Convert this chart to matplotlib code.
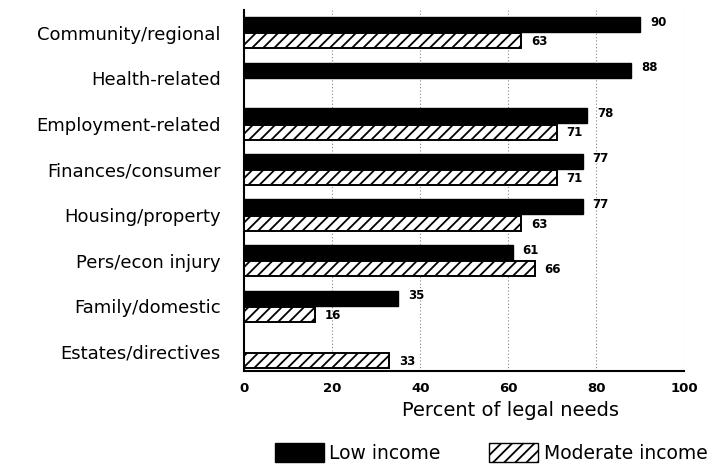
import numpy as np
import matplotlib.pyplot as plt
from matplotlib.patches import Patch

plt.rcParams['hatch.linewidth'] = 1.3
plt.rcParams['font.family'] = ['DejaVu Sans']

categories = ['Community/regional', 'Health-related', 'Employment-related',
              'Finances/consumer', 'Housing/property', 'Pers/econ injury',
              'Family/domestic', 'Estates/directives']
low_income = [90, 88, 78, 77, 77, 61, 35, None]
moderate_income = [63, None, 71, 71, 63, 66, 16, 33]
x_ticks = [0, 20, 40, 60, 80, 100]

fig = plt.figure(figsize=(7.12, 4.68), dpi=100)
ax = fig.add_axes([0.343, 0.207, 0.618, 0.772])

y = np.arange(len(categories))
h = 0.33
off = 0.18

for i, v in enumerate(low_income):
    if v is None:
        continue
    ax.barh(y[i] - off, v, h, color='black', edgecolor='black', linewidth=1)
    ax.text(v + 2.2, y[i] - off - 0.05, str(v), va='center', ha='left',
            fontsize=8.5, fontweight='bold')

for i, v in enumerate(moderate_income):
    if v is None:
        continue
    ax.barh(y[i] + off, v, h, color='white', edgecolor='black', linewidth=1.4,
            hatch='///')
    ax.text(v + 2.2, y[i] + off + 0.02, str(v), va='center', ha='left',
            fontsize=8.5, fontweight='bold')

ax.set_xlim(0, 100)
ax.set_ylim(7.42, -0.5)
ax.set_yticks(y)
ax.set_yticklabels(categories, fontsize=13)
ax.set_xticks(x_ticks)
ax.set_xticklabels([str(t) for t in x_ticks], fontsize=9.5, fontweight='bold')
ax.tick_params(axis='x', length=0, pad=8)
ax.tick_params(axis='y', length=0, pad=17)
ax.set_xlabel('Percent of legal needs', fontsize=14)
ax.xaxis.set_label_coords(0.605, -0.082)

for s in ['top', 'right']:
    ax.spines[s].set_visible(False)
ax.spines['left'].set_linewidth(1.5)
ax.spines['bottom'].set_linewidth(1.5)

for t in x_ticks[1:]:
    ax.axvline(t, color='#888888', linestyle=(0, (1, 2)), linewidth=0.8, zorder=0)

handles = [Patch(facecolor='black', edgecolor='black', label='Low income'),
           Patch(facecolor='white', edgecolor='black', hatch='///', label='Moderate income')]
fig.legend(handles=handles, loc='center', bbox_to_anchor=(0.69, 0.033), ncol=2,
           frameon=False, fontsize=13.5, handlelength=2.6, handleheight=1.2,
           columnspacing=2.6, handletextpad=0.3)

plt.savefig('out.png', dpi=100)
